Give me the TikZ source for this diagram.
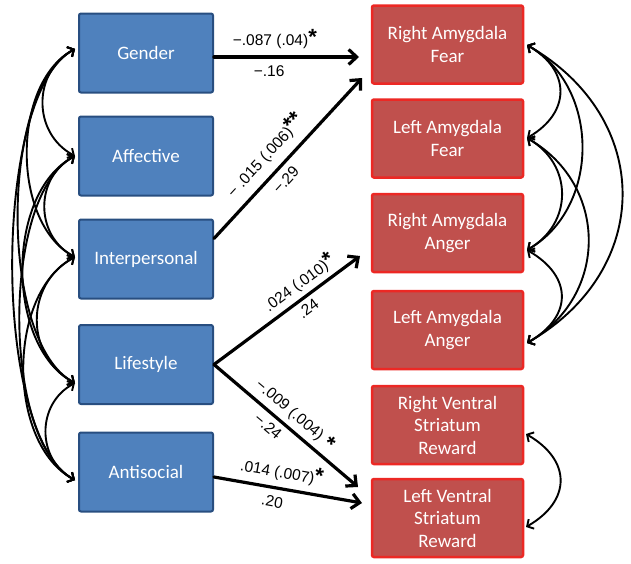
\documentclass[tikz,border=0pt]{standalone}
\usepackage{fontspec}
\setmainfont{Carlito}
\newfontfamily\labfont{Liberation Sans}
\usetikzlibrary{arrows.meta}
\definecolor{bfill}{RGB}{79,129,189}
\definecolor{bdraw}{RGB}{40,78,128}
\definecolor{rfill}{RGB}{192,80,77}
\definecolor{rdraw}{RGB}{236,40,36}
\newcommand\sig{\rlap{\smash{\raisebox{1pt}{\fontsize{22}{22}\selectfont\bfseries *}}}}
\newcommand\sigg{\rlap{\smash{\raisebox{1pt}{\fontsize{22}{22}\selectfont\bfseries **}}}}
\newcommand\sigl{\rlap{\smash{\raisebox{-2pt}{\fontsize{22}{22}\selectfont\bfseries\ *}}}}
\begin{document}
\begin{tikzpicture}[x=1pt,y=-1pt,
  bbox/.style={draw=bdraw, fill=bfill, line width=2pt, rounded corners=2pt,
    minimum width=134pt, minimum height=79pt, inner sep=0pt, text=white,
    font=\fontsize{19}{23}\selectfont},
  rbox/.style={draw=rdraw, fill=rfill, line width=2.5pt, rounded corners=2pt,
    minimum width=151pt, minimum height=78pt, inner sep=0pt, text=white, align=center,
    font=\fontsize{19}{22.5}\selectfont},
  patharr/.style={line width=3.2pt, line cap=round, -{Straight Barb[length=8pt,width=15pt]}},
  corr/.style={line width=1.9pt, {Straight Barb[length=5pt,width=11pt]}-{Straight Barb[length=5pt,width=11pt]}},
  lbl/.style={font=\labfont\fontsize{15.5}{17}\selectfont, inner sep=1pt, sloped}]
\useasboundingbox (0,0) rectangle (631,563);

% predictors
\node[bbox] (gender) at (146,53) {Gender};
\node[bbox] (affect) at (146,156) {Affective};
\node[bbox] (inter)  at (146,259) {Interpersonal};
\node[bbox] (life)   at (146,364.5) {Lifestyle};
\node[bbox] (antis)  at (146,472) {Antisocial};

% outcomes
\node[rbox] (raf) at (447.5,44.5) {Right Amygdala\\Fear};
\node[rbox] (laf) at (447.5,138.5) {Left Amygdala\\Fear};
\node[rbox] (raa) at (447.5,233) {Right Amygdala\\Anger};
\node[rbox] (laa) at (447.5,330) {Left Amygdala\\Anger};
\node[rbox] (rvs) at (447.5,425) {Right Ventral\\Striatum\\Reward};
\node[rbox] (lvs) at (447.5,518) {Left Ventral\\Striatum\\Reward};

% arrow tips
\coordinate (tG) at (359,57);
\coordinate (tI) at (362,78);
\coordinate (tLu) at (360,256);
\coordinate (tLd) at (358,487);
\coordinate (tA) at (362,503);

\draw[patharr] (gender.east |- tG) -- node[lbl,above=6pt,pos=0.39]{−.087 (.04)\sig}
  node[lbl,below=6pt,pos=0.38]{−.16} (tG);
\draw[patharr] ([yshift=-20pt]inter.north east) -- node[lbl,above=7pt,pos=0.40]{− .015 (.006)\sigg}
  node[lbl,below=5pt,pos=0.42]{−.29} (tI);
\draw[patharr] (life.east) -- node[lbl,above=3pt,pos=0.62]{.024 (.010)\sig}
  node[lbl,below=3pt,pos=0.60]{.24} (tLu);
\draw[patharr] (life.east) -- node[lbl,above=4pt,pos=0.46]{−.009 (.004)\sigl}
  node[lbl,below=4pt,pos=0.43]{−.24} (tLd);
\draw[patharr] ([yshift=-5pt]antis.east) -- node[lbl,above=5pt,pos=0.41]{.014 (.007)\sig}
  node[lbl,below=6pt,pos=0.41]{.20} (tA);

% left correlation end points
\coordinate (lG) at (75,49);
\coordinate (lA) at (75,156);
\coordinate (lI) at (75,257);
\coordinate (lL) at (75,383);
\coordinate (lN) at (75,480);

\draw[corr] (lG) to[bend right=62, looseness=1.16] (lA);
\draw[corr] (lA) to[bend right=62, looseness=1.16] (lI);
\draw[corr] (lI) to[bend right=62, looseness=1.16] (lL);
\draw[corr] (lL) to[bend right=62, looseness=1.16] (lN);
\draw[corr] (lG) to[bend right=62, looseness=0.89] (lI);
\draw[corr] (lA) to[bend right=62, looseness=0.89] (lL);
\draw[corr] (lI) to[bend right=62, looseness=0.89] (lN);
\draw[corr] (lG) to[bend right=62, looseness=0.66] (lL);
\draw[corr] (lA) to[bend right=62, looseness=0.66] (lN);
\draw[corr] (lG) to[bend right=62, looseness=0.56] (lN);

% right correlation end points
\coordinate (rF1) at (527,45);
\coordinate (rF2) at (527,138);
\coordinate (rA1) at (527,250);
\coordinate (rA2) at (527,343);
\coordinate (rV1) at (526,434);
\coordinate (rV2) at (526,527);

\draw[corr] (rF1) to[bend left=60, looseness=1.4] (rF2);
\draw[corr] (rF1) to[bend left=60, looseness=1.06] (rA1);
\draw[corr] (rF1) to[bend left=60, looseness=1.26] (rA2);
\draw[corr] (rF2) to[bend left=60, looseness=1.22] (rA1);
\draw[corr] (rF2) to[bend left=60, looseness=1.18] (rA2);
\draw[corr] (rA1) to[bend left=60, looseness=1.46] (rA2);
\draw[corr] (rV1) to[bend left=60, looseness=1.45] (rV2);
\end{tikzpicture}
\end{document}
